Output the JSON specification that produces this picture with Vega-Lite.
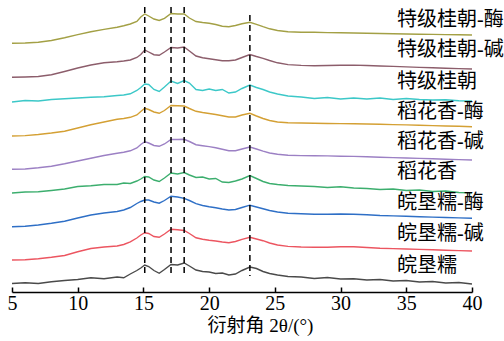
{
  "$schema": "https://vega.github.io/schema/vega-lite/v6.json",
  "width": 460,
  "height": 292,
  "autosize": {"type": "none"},
  "padding": {"left": 12, "top": 0, "right": 32, "bottom": 49},
  "background": "white",
  "config": {"view": {"stroke": null}},
  "datasets": {
    "xrd": [
      {"x": 5, "特级桂朝-酶": 248.7, "特级桂朝-碱": 214.7, "特级桂朝": 190.0, "稻花香-酶": 156.0, "稻花香-碱": 122.7, "稻花香": 99.0, "皖垦糯-酶": 65.3, "皖垦糯-碱": 32.0, "皖垦糯": 8.5},
      {"x": 6, "特级桂朝-酶": 249.0, "特级桂朝-碱": 215.0, "特级桂朝": 191.5, "稻花香-酶": 156.4, "稻花香-碱": 123.0, "稻花香": 100.0, "皖垦糯-酶": 65.7, "皖垦糯-碱": 32.2, "皖垦糯": 9.2},
      {"x": 7, "特级桂朝-酶": 249.8, "特级桂朝-碱": 215.5, "特级桂朝": 191.0, "稻花香-酶": 157.5, "稻花香-碱": 124.2, "稻花香": 100.2, "皖垦糯-酶": 67.0, "皖垦糯-碱": 33.2, "皖垦糯": 8.5},
      {"x": 8, "特级桂朝-酶": 251.5, "特级桂朝-碱": 217.2, "特级桂朝": 192.5, "稻花香-酶": 159.0, "稻花香-碱": 125.8, "稻花香": 101.5, "皖垦糯-酶": 68.7, "皖垦糯-碱": 34.7, "皖垦糯": 10.2},
      {"x": 9, "特级桂朝-酶": 254.2, "特级桂朝-碱": 220.5, "特级桂朝": 193.2, "稻花香-酶": 160.8, "稻花香-碱": 128.2, "稻花香": 103.0, "皖垦糯-酶": 70.7, "皖垦糯-碱": 36.5, "皖垦糯": 11.5},
      {"x": 10, "特级桂朝-酶": 257.4, "特级桂朝-碱": 224.0, "特级桂朝": 194.0, "稻花香-酶": 164.0, "稻花香-碱": 131.0, "稻花香": 105.5, "皖垦糯-酶": 74.0, "皖垦糯-碱": 40.2, "皖垦糯": 12.5},
      {"x": 11, "特级桂朝-酶": 260.3, "特级桂朝-碱": 227.0, "特级桂朝": 194.8, "稻花香-酶": 167.2, "稻花香-碱": 133.8, "稻花香": 106.2, "皖垦糯-酶": 77.0, "皖垦糯-碱": 43.5, "皖垦糯": 14.2},
      {"x": 12, "特级桂朝-酶": 262.6, "特级桂朝-碱": 229.2, "特级桂朝": 195.2, "稻花香-酶": 170.0, "稻花香-碱": 136.5, "稻花香": 107.5, "皖垦糯-酶": 79.0, "皖垦糯-碱": 45.0, "皖垦糯": 13.2},
      {"x": 13, "特级桂朝-酶": 264.7, "特级桂朝-碱": 230.3, "特级桂朝": 196.5, "稻花香-酶": 172.7, "稻花香-碱": 138.7, "稻花香": 107.5, "皖垦糯-酶": 80.5, "皖垦糯-碱": 46.0, "皖垦糯": 15.0},
      {"x": 13.5, "特级桂朝-酶": 266.2, "特级桂朝-碱": 231.0, "特级桂朝": 197.0, "稻花香-酶": 173.5, "稻花香-碱": 139.7, "稻花香": 109.0, "皖垦糯-酶": 82.0, "皖垦糯-碱": 47.5, "皖垦糯": 14.2},
      {"x": 14, "特级桂朝-酶": 268.0, "特级桂朝-碱": 232.0, "特级桂朝": 198.2, "稻花香-酶": 174.7, "稻花香-碱": 141.2, "稻花香": 108.5, "皖垦糯-酶": 84.5, "皖垦糯-碱": 50.2, "皖垦糯": 18.0},
      {"x": 14.5, "特级桂朝-酶": 270.5, "特级桂朝-碱": 234.5, "特级桂朝": 201.5, "稻花香-酶": 177.0, "稻花香-碱": 144.0, "稻花香": 111.0, "皖垦糯-酶": 88.5, "皖垦糯-碱": 54.0, "皖垦糯": 21.5},
      {"x": 14.8, "特级桂朝-酶": 275.0, "特级桂朝-碱": 237.5, "特级桂朝": 204.5, "稻花香-酶": 180.5, "稻花香-碱": 147.5, "稻花香": 113.0, "皖垦糯-酶": 90.5, "皖垦糯-碱": 57.0, "皖垦糯": 24.0},
      {"x": 15.1, "特级桂朝-酶": 278.0, "特级桂朝-碱": 242.0, "特级桂朝": 208.0, "稻花香-酶": 183.7, "稻花香-碱": 150.3, "稻花香": 115.5, "皖垦糯-酶": 92.0, "皖垦糯-碱": 59.3, "皖垦糯": 27.0},
      {"x": 15.4, "特级桂朝-酶": 276.0, "特级桂朝-碱": 240.0, "特级桂朝": 207.5, "稻花香-酶": 182.5, "稻花香-碱": 149.0, "稻花香": 115.0, "皖垦糯-酶": 92.0, "皖垦糯-碱": 58.5, "皖垦糯": 25.5},
      {"x": 15.8, "特级桂朝-酶": 273.0, "特级桂朝-碱": 237.3, "特级桂朝": 202.5, "稻花香-酶": 180.0, "稻花香-碱": 146.5, "稻花香": 112.0, "皖垦糯-酶": 90.0, "皖垦糯-碱": 55.5, "皖垦糯": 21.5},
      {"x": 16.2, "特级桂朝-酶": 271.5, "特级桂朝-碱": 236.7, "特级桂朝": 200.5, "稻花香-酶": 178.7, "稻花香-碱": 145.7, "稻花香": 110.5, "皖垦糯-酶": 88.8, "皖垦糯-碱": 54.7, "皖垦糯": 18.7},
      {"x": 16.6, "特级桂朝-酶": 273.7, "特级桂朝-碱": 240.0, "特级桂朝": 205.0, "稻花香-酶": 181.5, "稻花香-碱": 148.0, "稻花香": 114.0, "皖垦糯-酶": 91.5, "皖垦糯-碱": 58.0, "皖垦糯": 22.5},
      {"x": 17.1, "特级桂朝-酶": 278.5, "特级桂朝-碱": 244.5, "特级桂朝": 211.0, "稻花香-酶": 186.5, "稻花香-碱": 152.5, "稻花香": 119.0, "皖垦糯-酶": 95.8, "皖垦糯-碱": 62.7, "皖垦糯": 27.5},
      {"x": 17.6, "特级桂朝-酶": 278.0, "特级桂朝-碱": 244.0, "特级桂朝": 208.5, "稻花香-酶": 186.3, "稻花香-碱": 152.5, "稻花香": 118.0, "皖垦糯-酶": 95.0, "皖垦糯-碱": 62.2, "皖垦糯": 27.0},
      {"x": 18.1, "特级桂朝-酶": 278.0, "特级桂朝-碱": 245.0, "特级桂朝": 211.5, "稻花香-酶": 186.0, "稻花香-碱": 152.7, "稻花香": 119.5, "皖垦糯-酶": 93.7, "皖垦糯-碱": 61.5, "皖垦糯": 29.0},
      {"x": 18.5, "特级桂朝-酶": 274.0, "特级桂朝-碱": 241.0, "特级桂朝": 209.0, "稻花香-酶": 183.5, "稻花香-碱": 150.5, "稻花香": 117.0, "皖垦糯-酶": 91.5, "皖垦糯-碱": 58.5, "皖垦糯": 26.0},
      {"x": 19, "特级桂朝-酶": 270.5, "特级桂朝-碱": 236.0, "特级桂朝": 202.5, "稻花香-酶": 180.7, "稻花香-碱": 147.3, "稻花香": 114.5, "皖垦糯-酶": 88.3, "皖垦糯-碱": 54.2, "皖垦糯": 22.0},
      {"x": 19.5, "特级桂朝-酶": 269.5, "特级桂朝-碱": 234.2, "特级桂朝": 201.5, "稻花香-酶": 179.5, "稻花香-碱": 146.3, "稻花香": 115.0, "皖垦糯-酶": 86.5, "皖垦糯-碱": 52.8, "皖垦糯": 20.5},
      {"x": 20, "特级桂朝-酶": 268.8, "特级桂朝-碱": 233.3, "特级桂朝": 203.0, "稻花香-酶": 178.5, "稻花香-碱": 145.4, "稻花香": 113.0, "皖垦糯-酶": 85.2, "皖垦糯-碱": 51.8, "皖垦糯": 20.0},
      {"x": 20.5, "特级桂朝-酶": 267.5, "特级桂朝-碱": 232.3, "特级桂朝": 201.5, "稻花香-酶": 177.5, "稻花香-碱": 144.3, "稻花香": 113.5, "皖垦糯-酶": 84.2, "皖垦糯-碱": 51.0, "皖垦糯": 18.5},
      {"x": 21, "特级桂朝-酶": 265.7, "特级桂朝-碱": 231.2, "特级桂朝": 202.5, "稻花香-酶": 176.2, "稻花香-碱": 142.8, "稻花香": 110.0, "皖垦糯-酶": 83.0, "皖垦糯-碱": 50.0, "皖垦糯": 19.0},
      {"x": 21.5, "特级桂朝-酶": 265.2, "特级桂朝-碱": 231.2, "特级桂朝": 199.0, "稻花香-酶": 175.0, "稻花香-碱": 141.3, "稻花香": 109.5, "皖垦糯-酶": 82.0, "皖垦糯-碱": 49.3, "皖垦糯": 17.0},
      {"x": 22, "特级桂朝-酶": 266.5, "特级桂朝-碱": 232.0, "特级桂朝": 200.0, "稻花香-酶": 175.0, "稻花香-碱": 141.2, "稻花香": 111.0, "皖垦糯-酶": 82.5, "皖垦糯-碱": 50.5, "皖垦糯": 18.0},
      {"x": 22.5, "特级桂朝-酶": 268.2, "特级桂朝-碱": 234.5, "特级桂朝": 203.5, "稻花香-酶": 177.0, "稻花香-碱": 143.0, "稻花香": 113.0, "皖垦糯-酶": 84.5, "皖垦糯-碱": 52.7, "皖垦糯": 21.5},
      {"x": 23.1, "特级桂朝-酶": 269.7, "特级桂朝-碱": 237.5, "特级桂朝": 207.0, "稻花香-酶": 178.7, "稻花香-碱": 145.0, "稻花香": 116.5, "皖垦糯-酶": 86.8, "皖垦糯-碱": 54.7, "皖垦糯": 25.0},
      {"x": 23.6, "特级桂朝-酶": 267.7, "特级桂朝-碱": 235.5, "特级桂朝": 204.5, "稻花香-酶": 176.0, "稻花香-碱": 143.0, "稻花香": 113.5, "皖垦糯-酶": 85.0, "皖垦糯-碱": 53.0, "皖垦糯": 23.5},
      {"x": 24.1, "特级桂朝-酶": 265.3, "特级桂朝-碱": 233.7, "特级桂朝": 202.5, "稻花香-酶": 173.5, "稻花香-碱": 140.8, "稻花香": 110.5, "皖垦糯-酶": 83.2, "皖垦糯-碱": 51.3, "皖垦糯": 20.5},
      {"x": 24.6, "特级桂朝-酶": 263.2, "特级桂朝-碱": 231.5, "特级桂朝": 200.0, "稻花香-酶": 171.5, "稻花香-碱": 139.0, "稻花香": 108.5, "皖垦糯-酶": 81.5, "皖垦糯-碱": 49.0, "皖垦糯": 18.5},
      {"x": 25.2, "特级桂朝-酶": 261.5, "特级桂朝-碱": 229.2, "特级桂朝": 198.0, "稻花香-酶": 170.0, "稻花香-碱": 137.7, "稻花香": 107.5, "皖垦糯-酶": 80.0, "皖垦糯-碱": 47.0, "皖垦糯": 17.0},
      {"x": 26, "特级桂朝-酶": 260.3, "特级桂朝-碱": 227.4, "特级桂朝": 196.0, "稻花香-酶": 169.2, "稻花香-碱": 136.8, "稻花香": 106.5, "皖垦糯-酶": 78.8, "皖垦糯-碱": 45.6, "皖垦糯": 15.5},
      {"x": 27, "特级桂朝-酶": 259.7, "特级桂朝-碱": 226.6, "特级桂朝": 195.0, "稻花香-酶": 169.0, "稻花香-碱": 136.4, "稻花香": 106.0, "皖垦糯-酶": 78.2, "皖垦糯-碱": 45.0, "皖垦糯": 15.0},
      {"x": 28, "特级桂朝-酶": 259.7, "特级桂朝-碱": 226.3, "特级桂朝": 193.5, "稻花香-酶": 168.7, "稻花香-碱": 136.3, "稻花香": 105.5, "皖垦糯-酶": 77.8, "皖垦糯-碱": 44.7, "皖垦糯": 13.5},
      {"x": 29, "特级桂朝-酶": 259.4, "特级桂朝-碱": 226.5, "特级桂朝": 194.5, "稻花香-酶": 168.5, "稻花香-碱": 136.1, "稻花香": 104.5, "皖垦糯-酶": 77.8, "皖垦糯-碱": 44.8, "皖垦糯": 14.5},
      {"x": 30, "特级桂朝-酶": 259.2, "特级桂朝-碱": 226.8, "特级桂朝": 193.0, "稻花香-酶": 168.4, "稻花香-碱": 135.8, "稻花香": 105.2, "皖垦糯-酶": 78.0, "皖垦糯-碱": 45.2, "皖垦糯": 13.0},
      {"x": 31, "特级桂朝-酶": 259.0, "特级桂朝-碱": 226.9, "特级桂朝": 194.0, "稻花香-酶": 168.2, "稻花香-碱": 135.6, "稻花香": 104.0, "皖垦糯-酶": 77.8, "皖垦糯-碱": 45.2, "皖垦糯": 13.2},
      {"x": 32, "特级桂朝-酶": 258.7, "特级桂朝-碱": 226.5, "特级桂朝": 193.0, "稻花香-酶": 168.0, "稻花香-碱": 135.2, "稻花香": 103.5, "皖垦糯-酶": 77.2, "皖垦糯-碱": 44.5, "皖垦糯": 12.0},
      {"x": 33, "特级桂朝-酶": 258.5, "特级桂朝-碱": 226.0, "特级桂朝": 194.0, "稻花香-酶": 167.7, "稻花香-碱": 134.8, "稻花香": 102.5, "皖垦糯-酶": 76.5, "皖垦糯-碱": 43.8, "皖垦糯": 12.5},
      {"x": 34, "特级桂朝-酶": 258.3, "特级桂朝-碱": 225.6, "特级桂朝": 192.5, "稻花香-酶": 167.4, "稻花香-碱": 134.4, "稻花香": 103.0, "皖垦糯-酶": 76.1, "皖垦糯-碱": 43.4, "皖垦糯": 11.0},
      {"x": 35, "特级桂朝-酶": 258.0, "特级桂朝-碱": 225.1, "特级桂朝": 193.5, "稻花香-酶": 167.1, "稻花香-碱": 134.0, "稻花香": 101.5, "皖垦糯-酶": 75.7, "皖垦糯-碱": 43.0, "皖垦糯": 11.5},
      {"x": 36, "特级桂朝-酶": 257.8, "特级桂朝-碱": 224.6, "特级桂朝": 192.5, "稻花香-酶": 166.8, "稻花香-碱": 133.6, "稻花香": 102.0, "皖垦糯-酶": 75.3, "皖垦糯-碱": 42.6, "皖垦糯": 10.0},
      {"x": 37, "特级桂朝-酶": 257.6, "特级桂朝-碱": 224.2, "特级桂朝": 192.0, "稻花香-酶": 166.4, "稻花香-碱": 133.2, "稻花香": 100.5, "皖垦糯-酶": 74.9, "皖垦糯-碱": 42.2, "皖垦糯": 10.5},
      {"x": 38, "特级桂朝-酶": 257.4, "特级桂朝-碱": 223.8, "特级桂朝": 192.2, "稻花香-酶": 166.0, "稻花香-碱": 132.8, "稻花香": 101.0, "皖垦糯-酶": 74.5, "皖垦糯-碱": 41.8, "皖垦糯": 9.0},
      {"x": 39, "特级桂朝-酶": 257.2, "特级桂朝-碱": 223.4, "特级桂朝": 191.2, "稻花香-酶": 165.7, "稻花香-碱": 132.4, "稻花香": 99.5, "皖垦糯-酶": 74.1, "皖垦糯-碱": 41.4, "皖垦糯": 9.5},
      {"x": 40, "特级桂朝-酶": 257.0, "特级桂朝-碱": 223.0, "特级桂朝": 191.0, "稻花香-酶": 165.3, "稻花香-碱": 132.0, "稻花香": 99.3, "皖垦糯-酶": 73.7, "皖垦糯-碱": 41.0, "皖垦糯": 8.0}
    ],
    "peaks": [
      {"p": 15.1, "top": 285, "bottom": 16},
      {"p": 17.1, "top": 285, "bottom": 16},
      {"p": 18.1, "top": 285, "bottom": 16},
      {"p": 23.1, "top": 277, "bottom": 16}
    ],
    "labels": [
      {"name": "特级桂朝-酶", "x": 34.3, "y": 272},
      {"name": "特级桂朝-碱", "x": 34.3, "y": 242},
      {"name": "特级桂朝", "x": 34.3, "y": 210},
      {"name": "稻花香-酶", "x": 34.3, "y": 180},
      {"name": "稻花香-碱", "x": 34.3, "y": 150},
      {"name": "稻花香", "x": 34.3, "y": 120},
      {"name": "皖垦糯-酶", "x": 34.3, "y": 89},
      {"name": "皖垦糯-碱", "x": 34.3, "y": 58},
      {"name": "皖垦糯", "x": 34.3, "y": 26}
    ]
  },
  "layer": [
    {
      "data": {"name": "xrd"},
      "transform": [
        {"fold": ["特级桂朝-酶", "特级桂朝-碱", "特级桂朝", "稻花香-酶", "稻花香-碱", "稻花香", "皖垦糯-酶", "皖垦糯-碱", "皖垦糯"], "as": ["样品", "强度"]}
      ],
      "mark": {"type": "line", "strokeWidth": 1.4},
      "encoding": {
        "x": {
          "field": "x",
          "type": "quantitative",
          "scale": {"domain": [5, 40], "nice": false, "zero": false},
          "axis": {
            "values": [5, 10, 15, 20, 25, 30, 35, 40],
            "title": "衍射角 2θ/(°)",
            "grid": false,
            "domainColor": "black",
            "domainWidth": 1.5,
            "tickColor": "black",
            "tickWidth": 1.5,
            "tickSize": -5,
            "labelFlush": false,
            "labelFont": "Liberation Serif",
            "labelFontSize": 20,
            "labelColor": "black",
            "labelPadding": 6,
            "titleFont": "Liberation Serif, Noto Sans CJK SC",
            "titleFontSize": 19,
            "titleFontWeight": "normal",
            "titleColor": "black",
            "titleX": 248,
            "titleY": 33,
            "titleAlign": "center",
            "titleBaseline": "middle"
          }
        },
        "y": {
          "field": "强度",
          "type": "quantitative",
          "scale": {"domain": [0, 292], "nice": false, "zero": false},
          "axis": null
        },
        "color": {
          "field": "样品",
          "type": "nominal",
          "scale": {
            "domain": ["特级桂朝-酶", "特级桂朝-碱", "特级桂朝", "稻花香-酶", "稻花香-碱", "稻花香", "皖垦糯-酶", "皖垦糯-碱", "皖垦糯"],
            "range": ["#a3a045", "#8c5d6b", "#3cc8c8", "#d4a034", "#9c80c4", "#3cae6e", "#2e6fc6", "#ec5560", "#4a4a4a"]
          },
          "legend": null
        }
      }
    },
    {
      "data": {"name": "peaks"},
      "mark": {"type": "rule", "strokeDash": [6, 4], "strokeWidth": 1.5, "color": "black"},
      "encoding": {
        "x": {"field": "p", "type": "quantitative"},
        "y": {"field": "top", "type": "quantitative"},
        "y2": {"field": "bottom"}
      }
    },
    {
      "data": {"name": "labels"},
      "mark": {"type": "text", "align": "left", "baseline": "middle", "fontSize": 20, "font": "Liberation Serif, Noto Sans CJK SC", "color": "black"},
      "encoding": {
        "x": {"field": "x", "type": "quantitative"},
        "y": {"field": "y", "type": "quantitative"},
        "text": {"field": "name"}
      }
    }
  ]
}
